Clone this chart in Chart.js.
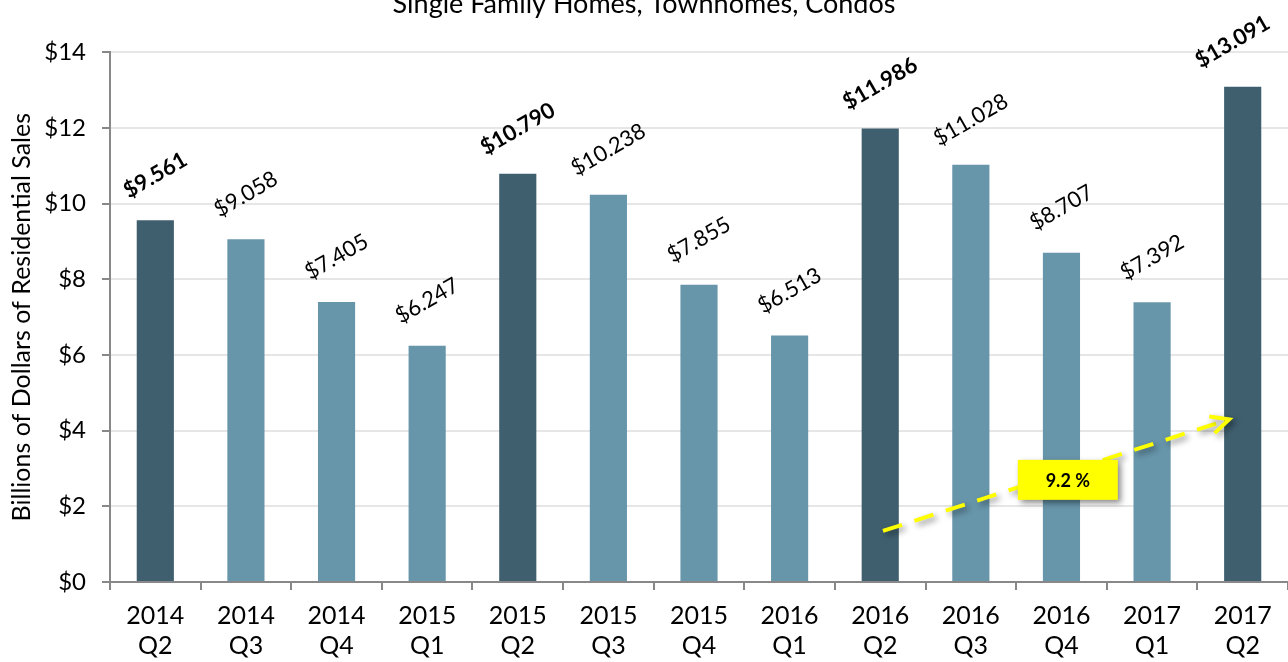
<!DOCTYPE html>
<html>
<head>
<meta charset="utf-8">
<script src="https://cdn.jsdelivr.net/npm/chart.js@4"></script>
<style>
  html, body { margin: 0; padding: 0; background: #fff; overflow: hidden; }
  #wrap { width: 1288px; height: 662px; overflow: hidden; position: relative; }
  #box { position: absolute; top: -12px; left: 0; width: 1288px; height: 674px; }
</style>
</head>
<body>
<div id="wrap"><div id="box"><canvas id="salesChart"></canvas></div></div>
<script>
// Quarterly residential sales, billions of dollars
const quarters = [
  ['2014', 'Q2'], ['2014', 'Q3'], ['2014', 'Q4'], ['2015', 'Q1'], ['2015', 'Q2'],
  ['2015', 'Q3'], ['2015', 'Q4'], ['2016', 'Q1'], ['2016', 'Q2'], ['2016', 'Q3'],
  ['2016', 'Q4'], ['2017', 'Q1'], ['2017', 'Q2']
];
const salesValues = [9.561, 9.058, 7.405, 6.247, 10.790, 10.238, 7.855, 6.513, 11.986, 11.028, 8.707, 7.392, 13.091];
// Q2 quarters are highlighted (darker bar, bold label)
const highlighted = [true, false, false, false, true, false, false, false, true, false, false, false, true];
const yTicks = [0, 2, 4, 6, 8, 10, 12, 14];

// Year-over-year growth arrow (category index, value)
const growthLabel = '9.2 %';
const growthFrom = [8.03, 1.35];
const growthTo = [11.85, 4.3];
const growthBoxAt = [10.07, 2.7];

const DARK = '#3f5f6f';
const LIGHT = '#6795aa';
const FONT = "Lato, 'Open Sans', sans-serif";

const valueLabels = {
  id: 'valueLabels',
  afterDatasetsDraw(chart) {
    const ctx = chart.ctx;
    const meta = chart.getDatasetMeta(0);
    const last = meta.data.length - 1;
    ctx.save();
    meta.data.forEach((bar, i) => {
      const dx = i === last ? -10 : 0;
      ctx.save();
      ctx.translate(bar.x + dx, bar.y - 45);
      ctx.rotate(-30 * Math.PI / 180);
      ctx.font = (highlighted[i] ? 'bold ' : '') + '22px ' + FONT;
      ctx.fillStyle = '#000';
      ctx.textAlign = 'center';
      ctx.textBaseline = 'middle';
      ctx.fillText('$' + salesValues[i].toFixed(3), 0, 0);
      ctx.restore();
    });
    ctx.restore();
  }
};

const growthArrow = {
  id: 'growthArrow',
  afterDraw(chart) {
    const ctx = chart.ctx;
    const x = chart.scales.x, y = chart.scales.y;
    const px = p => [x.getPixelForValue(p[0]), y.getPixelForValue(p[1])];
    const [x1, y1] = px(growthFrom);
    const [x2, y2] = px(growthTo);
    const [bx, by] = px(growthBoxAt);

    ctx.save();
    ctx.shadowColor = 'rgba(0,0,0,0.45)';
    ctx.shadowBlur = 6;
    ctx.shadowOffsetX = 3;
    ctx.shadowOffsetY = 3;
    ctx.strokeStyle = '#ffff00';
    ctx.lineWidth = 4;
    ctx.setLineDash([20, 13]);
    ctx.beginPath();
    ctx.moveTo(x1, y1);
    ctx.lineTo(x2, y2);
    ctx.stroke();

    // open arrow head
    const ang = Math.atan2(y2 - y1, x2 - x1);
    ctx.setLineDash([]);
    ctx.beginPath();
    ctx.moveTo(x2 - 20 * Math.cos(ang - 0.45), y2 - 20 * Math.sin(ang - 0.45));
    ctx.lineTo(x2, y2);
    ctx.lineTo(x2 - 20 * Math.cos(ang + 0.45), y2 - 20 * Math.sin(ang + 0.45));
    ctx.stroke();

    // label box
    ctx.fillStyle = '#ffff00';
    ctx.fillRect(bx - 50, by - 20, 100, 40);
    ctx.shadowColor = 'transparent';
    ctx.fillStyle = '#000';
    ctx.font = 'bold 18px ' + FONT;
    ctx.textAlign = 'center';
    ctx.textBaseline = 'middle';
    ctx.fillText(growthLabel, bx, by + 1);
    ctx.restore();
  }
};

function initChart() {
  const ctx = document.getElementById('salesChart').getContext('2d');
  Chart.defaults.font.family = FONT;
  Chart.defaults.color = '#000';

  new Chart(ctx, {
    type: 'bar',
    data: {
      labels: quarters,
      datasets: [{
        data: salesValues,
        backgroundColor: highlighted.map(h => h ? DARK : LIGHT),
        barPercentage: 0.41,
        categoryPercentage: 1.0
      }]
    },
    options: {
      responsive: true,
      maintainAspectRatio: false,
      animation: false,
      layout: { padding: 0 },
      plugins: {
        legend: { display: false },
        tooltip: { enabled: false },
        title: {
          display: true,
          text: 'Single Family Homes, Townhomes, Condos',
          font: { size: 27, weight: 'normal', lineHeight: 1.2 },
          color: '#000',
          padding: { top: 0, bottom: 32 }
        }
      },
      scales: {
        x: {
          offset: true,
          grid: { drawOnChartArea: false, tickColor: '#888', tickLength: 8, lineWidth: 2 },
          border: { color: '#888', width: 2 },
          ticks: { font: { size: 25, lineHeight: 1.2 }, color: '#000', padding: 11, maxRotation: 0, autoSkip: false },
          afterFit: axis => { axis.height = 80; }
        },
        y: {
          min: 0,
          max: 14,
          afterBuildTicks: axis => { axis.ticks = yTicks.map(v => ({ value: v })); },
          grid: { color: '#e6e6e6', lineWidth: 2, tickColor: '#888', tickLength: 8 },
          border: { color: '#888', width: 2 },
          ticks: { font: { size: 24 }, color: '#000', padding: 16, callback: v => '$' + v },
          title: {
            display: true,
            text: 'Billions of Dollars of Residential Sales',
            font: { size: 25, lineHeight: 1.2 },
            color: '#000',
            padding: { top: 7, bottom: 0 }
          },
          afterFit: axis => { axis.width = 110; }
        }
      }
    },
    plugins: [valueLabels, growthArrow]
  });
}

document.addEventListener('DOMContentLoaded', initChart);
</script>
</body>
</html>
